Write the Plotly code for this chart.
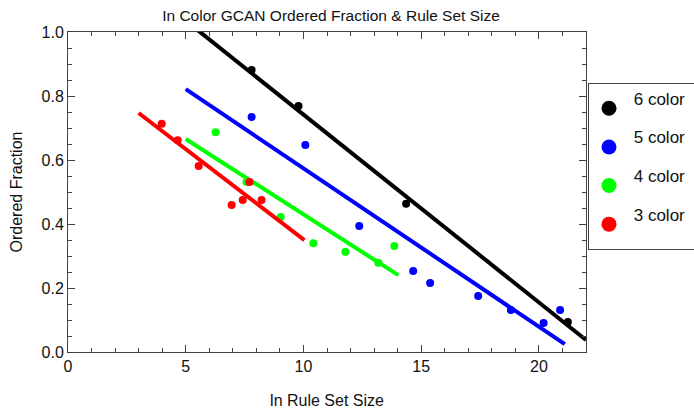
import numpy as np
import plotly.graph_objects as go

# ---- data ----
series_names = ["6 color", "5 color", "4 color", "3 color"]
series_colors = ["#000000", "#0000ff", "#00ff00", "#ff0000"]

x6 = [7.80, 9.79, 14.36, 21.23]
y6 = [0.881, 0.769, 0.463, 0.094]

x5 = [7.80, 10.08, 12.37, 14.66, 15.38, 17.42, 18.81, 20.20, 20.90]
y5 = [0.734, 0.647, 0.394, 0.253, 0.216, 0.175, 0.131, 0.091, 0.131]

x4 = [6.27, 7.58, 9.03, 10.42, 11.78, 13.18, 13.86]
y4 = [0.687, 0.531, 0.422, 0.340, 0.313, 0.279, 0.331]

x3 = [3.98, 4.66, 5.55, 6.95, 7.42, 7.71, 8.22]
y3 = [0.713, 0.662, 0.581, 0.459, 0.475, 0.531, 0.475]

# fitted lines (slope, intercept) and their drawn x-extents
fit_slope = [-0.0587, -0.0495, -0.0471, -0.0564]
fit_intercept = [1.329, 1.069, 0.901, 0.916]
fit_xstart = [5.0, 5.0, 5.0, 3.0]
fit_xend = [22.0, 21.1, 14.03, 10.04]

xs = [x6, x5, x4, x3]
ys = [y6, y5, y4, y3]

FONT = "Liberation Sans, Arial, Helvetica, sans-serif"
TXT = "#111"

fig = go.Figure()

# each series: points, then its fitted line on top
for i in range(4):
    fig.add_trace(go.Scatter(x=xs[i], y=ys[i], mode="markers",
                             marker=dict(color=series_colors[i], size=8),
                             showlegend=False, name=series_names[i]))
    lx = np.array([fit_xstart[i], fit_xend[i]])
    ly = fit_slope[i] * lx + fit_intercept[i]
    fig.add_trace(go.Scatter(x=lx, y=ly, mode="lines",
                             line=dict(color=series_colors[i], width=4),
                             showlegend=False, hoverinfo="skip"))

# legend entries (large circles, label sits above the symbol)
for i in range(4):
    fig.add_trace(go.Scatter(x=[None], y=[None], mode="markers",
                             marker=dict(color=series_colors[i], size=15),
                             name="<span style='font-size:17px'>\u00a0" + series_names[i]
                                  + "\u00a0\u00a0</span><br>\u00a0",
                             legendgroup=series_names[i], showlegend=True))

axis_common = dict(showline=True, mirror="ticks", linecolor="#444", linewidth=1,
                   ticks="inside", ticklen=7, tickcolor="#444", tickwidth=1,
                   showgrid=False, zeroline=False,
                   tickfont=dict(family=FONT, size=16, color=TXT))

fig.update_layout(
    width=694, height=409,
    margin=dict(l=68, r=108, t=32, b=57, autoexpand=False),
    paper_bgcolor="white", plot_bgcolor="white",
    font=dict(family=FONT, size=16, color=TXT),
    title=dict(text="In Color GCAN Ordered Fraction & Rule Set Size",
               x=331 / 694, xanchor="center", y=1 - 16 / 409, yanchor="middle",
               font=dict(family=FONT, size=15.5, color=TXT)),
    xaxis=dict(range=[0, 22], dtick=5, tick0=0,
               minor=dict(dtick=1, ticks="inside", ticklen=4, tickcolor="#444"),
               title=dict(text="ln Rule Set Size", font=dict(family=FONT, size=16, color=TXT), standoff=20),
               **axis_common),
    yaxis=dict(range=[0, 1], dtick=0.2, tick0=0, tickformat=".1f",
               minor=dict(dtick=0.05, ticks="inside", ticklen=4, tickcolor="#444"),
               title=dict(text="Ordered Fraction", font=dict(family=FONT, size=16, color=TXT), standoff=14),
               **axis_common),
    legend=dict(x=(588 - 68) / 518, xanchor="left", y=(352 - 83) / 320, yanchor="top",
                bordercolor="#444", borderwidth=1, bgcolor="white",
                font=dict(family=FONT, size=13.7, color=TXT),
                itemsizing="trace", tracegroupgap=0, valign="middle"),
)

fig.write_html("out.html")
